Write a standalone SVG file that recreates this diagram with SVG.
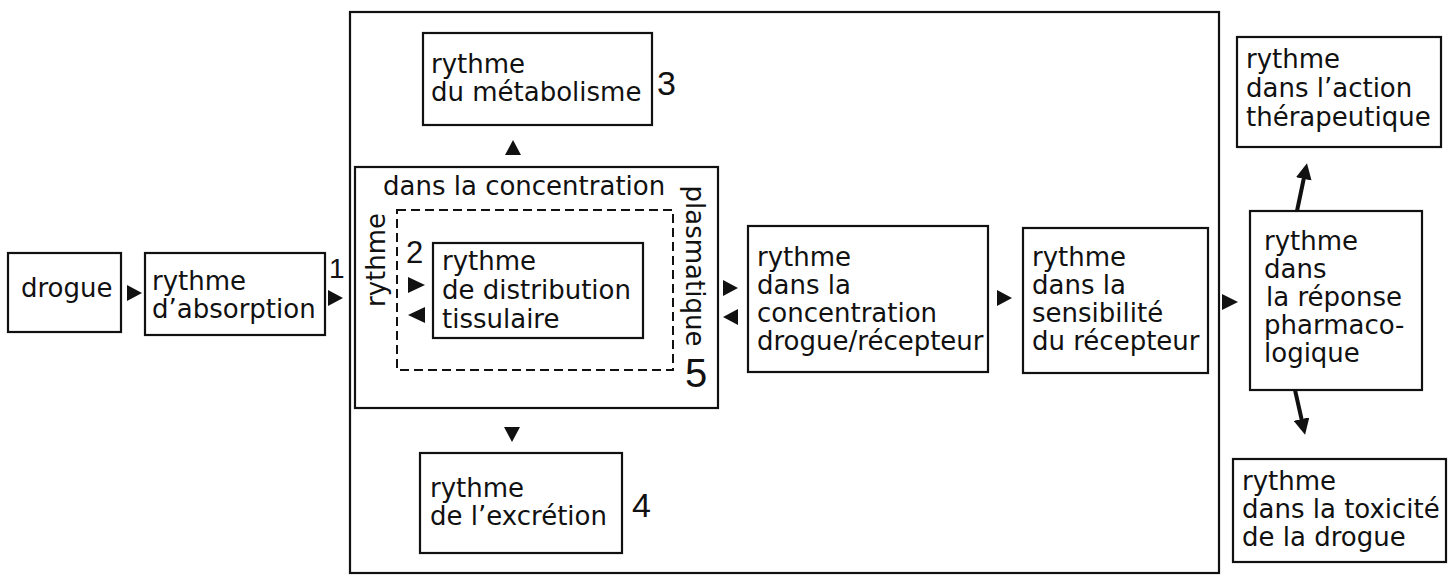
<svg xmlns="http://www.w3.org/2000/svg" width="1452" height="577" viewBox="0 0 1452 577">
<style>
.box{fill:none;stroke:#111;stroke-width:2.2}
.dash{fill:none;stroke:#111;stroke-width:2;stroke-dasharray:9 5}
.t{font-family:"DejaVu Sans","Liberation Sans",Arial,sans-serif;font-size:26px;fill:#111}
.n{font-family:"Liberation Sans",Arial,sans-serif;fill:#111}
.ah{fill:#111}
.ln{stroke:#111;stroke-width:4;fill:none}
</style>
<defs>
<marker id="head" viewBox="0 0 10 10" refX="7" refY="5" markerWidth="4" markerHeight="4" orient="auto" markerUnits="strokeWidth">
<path d="M0,0 L10,5 L0,10 Z" fill="#111"/>
</marker>
</defs>
<rect width="1452" height="577" fill="#fff"/>

<g id="outer">
<rect class="box" x="350" y="12" width="869" height="561"/>
</g>

<g id="drogue">
<rect class="box" x="8" y="253" width="113" height="79"/>
<text class="t" x="21" y="297">drogue</text>
</g>

<g id="absorption">
<rect class="box" x="145" y="253" width="180" height="82"/>
<text class="t" x="152" y="290">rythme</text>
<text class="t" x="152" y="318">d’absorption</text>
<text class="n" x="329" y="278" font-size="28">1</text>
</g>

<g id="metabolisme">
<rect class="box" x="423" y="33" width="229" height="92"/>
<text class="t" x="431" y="73">rythme</text>
<text class="t" x="431" y="101">du métabolisme</text>
<text class="n" x="657" y="95" font-size="34">3</text>
</g>

<g id="plasma">
<rect class="box" x="355" y="167" width="363" height="241"/>
<text class="t" x="383" y="195">dans la concentration</text>
<text class="t" text-anchor="middle" transform="translate(385,260) rotate(-90)">rythme</text>
<text class="t" text-anchor="middle" transform="translate(686,266) rotate(90)">plasmatique</text>
<text class="n" x="685" y="387" font-size="40">5</text>
<rect class="dash" x="397" y="210" width="276" height="160"/>
<text class="n" x="406" y="263" font-size="31">2</text>
</g>

<g id="distribution">
<rect class="box" x="433" y="243" width="210" height="95"/>
<text class="t" x="442" y="270">rythme</text>
<text class="t" x="442" y="299">de distribution</text>
<text class="t" x="442" y="328">tissulaire</text>
</g>

<g id="excretion">
<rect class="box" x="420" y="453" width="202" height="100"/>
<text class="t" x="430" y="497">rythme</text>
<text class="t" x="430" y="525">de l’excrétion</text>
<text class="n" x="632" y="517" font-size="34">4</text>
</g>

<g id="recepteur-conc">
<rect class="box" x="748" y="226" width="240" height="146"/>
<text class="t" x="757" y="266">rythme</text>
<text class="t" x="757" y="294">dans la</text>
<text class="t" x="757" y="322">concentration</text>
<text class="t" x="757" y="350">drogue/récepteur</text>
</g>

<g id="sensibilite">
<rect class="box" x="1023" y="228" width="185" height="145"/>
<text class="t" x="1032" y="266">rythme</text>
<text class="t" x="1032" y="294">dans la</text>
<text class="t" x="1032" y="322">sensibilité</text>
<text class="t" x="1032" y="350">du récepteur</text>
</g>

<g id="action">
<rect class="box" x="1237" y="37" width="204" height="110"/>
<text class="t" x="1246" y="68">rythme</text>
<text class="t" x="1246" y="97">dans l’action</text>
<text class="t" x="1246" y="126">thérapeutique</text>
</g>

<g id="reponse">
<rect class="box" x="1250" y="211" width="172" height="179"/>
<text class="t" x="1264" y="250">rythme</text>
<text class="t" x="1264" y="278">dans</text>
<text class="t" x="1266" y="306">la réponse</text>
<text class="t" x="1264" y="334">pharmaco-</text>
<text class="t" x="1264" y="362">logique</text>
</g>

<g id="toxicite">
<rect class="box" x="1233" y="459" width="213" height="103"/>
<text class="t" x="1242" y="490">rythme</text>
<text class="t" x="1242" y="518">dans la toxicité</text>
<text class="t" x="1242" y="546">de la drogue</text>
</g>

<g id="connectors">
<polygon class="ah" points="127,285 142,293 127,301"/>
<polygon class="ah" points="328,290 343,298 328,306"/>
<polygon class="ah" points="505,155 513,140 521,155"/>
<polygon class="ah" points="504,427 520,427 512,442"/>
<polygon class="ah" points="408,277 425,285 408,293"/>
<polygon class="ah" points="425,307 408,315 425,323"/>
<polygon class="ah" points="723,280 738,288 723,296"/>
<polygon class="ah" points="738,309 723,317 738,325"/>
<polygon class="ah" points="997,290 1012,298 997,306"/>
<polygon class="ah" points="1222,294 1238,302 1222,310"/>
<line class="ln" x1="1297" y1="211" x2="1306" y2="168" marker-end="url(#head)"/>
<line class="ln" x1="1295" y1="390" x2="1304" y2="430" marker-end="url(#head)"/>
</g>
</svg>
